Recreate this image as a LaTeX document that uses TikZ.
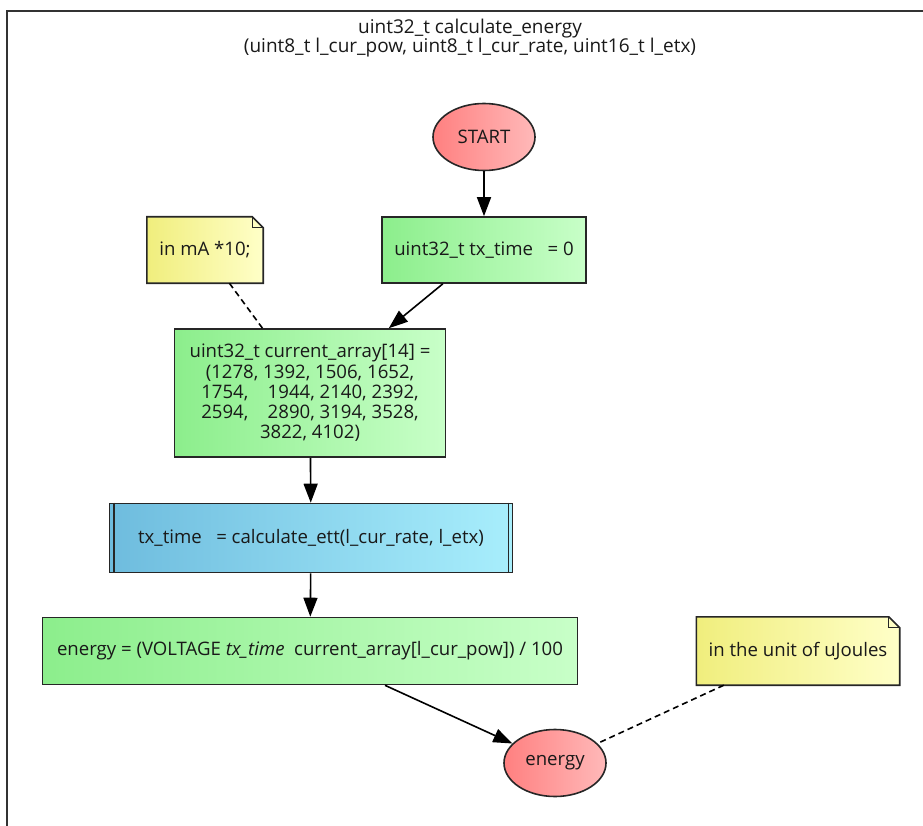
\documentclass[tikz,border=0pt]{standalone}
\usepackage{fontspec}
\setmainfont{Open Sans}
\usetikzlibrary{arrows.meta,shapes.geometric,backgrounds}

\definecolor{greenL}{RGB}{140,238,140}
\definecolor{greenR}{RGB}{200,255,200}
\definecolor{redL}{RGB}{255,128,128}
\definecolor{redR}{RGB}{255,185,185}
\definecolor{blueL}{RGB}{110,188,222}
\definecolor{blueR}{RGB}{168,238,252}
\definecolor{noteL}{RGB}{240,238,125}
\definecolor{noteR}{RGB}{255,255,200}

\tikzset{
  base/.style={font=\fontsize{18.6}{20.3}\selectfont, text=black!90, align=center, inner sep=0pt},
  stepbox/.style={base, draw=black!85, line width=1.6pt, left color=greenL, right color=greenR},
  callbox/.style={base, draw=black!85, line width=1.6pt, left color=blueL, right color=blueR},
  term/.style={base, ellipse, draw=black!85, line width=1.6pt, left color=redL, right color=redR,
    minimum width=102pt, minimum height=67pt},
  notebox/.style={base},
  notefill/.style={draw=black!85, line width=1.6pt, left color=noteL, right color=noteR},
  flow/.style={line width=1.6pt, -{Triangle[length=19pt,width=14pt]}},
  link/.style={line width=1.6pt, dashed, dash pattern=on 6pt off 4pt}
}

\begin{document}
\begin{tikzpicture}[x=1pt, y=-1pt]
  \useasboundingbox (0,0) rectangle (923,826);

  % frame
  \draw[line width=2pt, black!80] (7,826) -- (7,11) -- (923,11);
  \node[base, font=\fontsize{19}{19.5}\selectfont] (title) at (470,38)
    {uint32\_t calculate\_energy\\(uint8\_t l\_cur\_pow, uint8\_t l\_cur\_rate, uint16\_t l\_etx)};

  % flow
  \node[term] (start) at (484,137) {START};
  \node[stepbox, minimum width=204pt, minimum height=66pt] (init) at (484,250)
    {uint32\_t tx\_time\ \ \ = 0};
  \node[stepbox, minimum width=271pt, minimum height=128pt] (array) at (310,393)
    {uint32\_t current\_array[14] =\\(1278, 1392, 1506, 1652,\\1754,\ \ \ \ 1944, 2140, 2392,\\2594,\ \ \ \ 2890, 3194, 3528,\\3822, 4102)};
  \node[callbox, minimum width=403pt, minimum height=69pt] (call) at (311,538)
    {tx\_time\ \ \ = calculate\_ett(l\_cur\_rate, l\_etx)};
  \draw[line width=1.6pt, black!85] ([xshift=5pt]call.north west) -- ([xshift=5pt]call.south west);
  \draw[line width=1.6pt, black!85] ([xshift=-5pt]call.north east) -- ([xshift=-5pt]call.south east);
  \node[stepbox, minimum width=535pt, minimum height=67pt] (calc) at (310,651)
    {energy = (VOLTAGE \textit{tx\_time}\ \ current\_array[l\_cur\_pow]) / 100};
  \node[term] (energy) at (555,763) {energy};

  % notes
  \node[notebox, minimum width=116pt, minimum height=66pt] (note1) at (205,250) {in mA *10;};
  \node[notebox, minimum width=203pt, minimum height=68pt] (note2) at (798,651) {in the unit of uJoules};
  \begin{scope}[on background layer]
    \foreach \n in {note1, note2} {
      \shadedraw[notefill] (\n.north west) -- ([xshift=-11pt]\n.north east)
        -- ([yshift=-11pt]\n.north east) -- (\n.south east) -- (\n.south west) -- cycle;
      \draw[line width=0.9pt, black!85] ([xshift=-11pt]\n.north east)
        -- ([xshift=-11pt,yshift=-11pt]\n.north east) -- ([yshift=-11pt]\n.north east);
    }
  \end{scope}

  \draw[flow] (start) -- (init);
  \draw[flow] (init) -- (array);
  \draw[flow] (array) -- (call);
  \draw[flow] (call) -- (calc);
  \draw[flow] (calc) -- (energy);
  \draw[link] (note1) -- (array);
  \draw[link] (note2) -- (energy);
\end{tikzpicture}
\end{document}
